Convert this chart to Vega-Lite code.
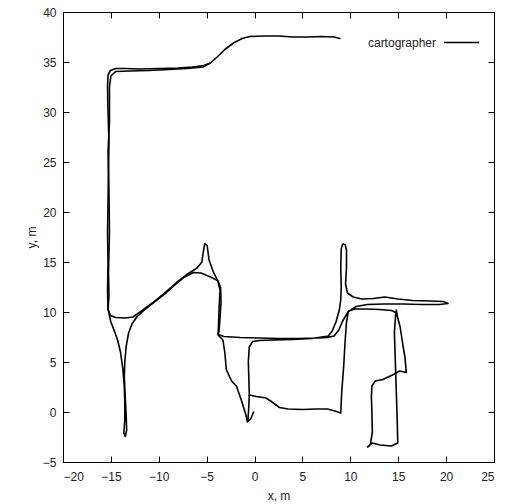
{
  "$schema": "https://vega.github.io/schema/vega-lite/v6.json",
  "width": 431,
  "height": 450,
  "autosize": {"type": "none"},
  "padding": {"left": 63, "top": 12, "right": 15, "bottom": 42},
  "background": "white",
  "config": {
    "view": {"stroke": "black", "strokeWidth": 1},
    "font": "Liberation Sans",
    "axis": {
      "grid": false, "domain": false, "ticks": true, "tickSize": -6, "tickColor": "black", "tickWidth": 1,
      "labelFont": "Liberation Sans", "labelFontSize": 12, "labelColor": "#222",
      "titleFont": "Liberation Sans", "titleFontSize": 12, "titleFontWeight": "normal", "titleColor": "#222"
    }
  },
  "datasets": {
    "traj": [
      {"seg":"A","x":8.9,"y":37.35},{"seg":"A","x":8.3,"y":37.5},{"seg":"A","x":7,"y":37.55},{"seg":"A","x":5.5,"y":37.5},{"seg":"A","x":4,"y":37.5},{"seg":"A","x":2.5,"y":37.6},{"seg":"A","x":1,"y":37.6},{"seg":"A","x":-0.5,"y":37.55},{"seg":"A","x":-1.3,"y":37.35},{"seg":"A","x":-2.2,"y":36.9},{"seg":"A","x":-3.1,"y":36.25},{"seg":"A","x":-3.9,"y":35.5},{"seg":"A","x":-4.6,"y":34.9},{"seg":"A","x":-5.3,"y":34.65},{"seg":"A","x":-6.5,"y":34.5},{"seg":"A","x":-8,"y":34.4},{"seg":"A","x":-10,"y":34.35},{"seg":"A","x":-12,"y":34.3},{"seg":"A","x":-13.5,"y":34.35},{"seg":"A","x":-14.5,"y":34.35},{"seg":"A","x":-15.05,"y":34.15},{"seg":"A","x":-15.3,"y":33.7},{"seg":"A","x":-15.35,"y":32.5},{"seg":"A","x":-15.3,"y":30},{"seg":"A","x":-15.2,"y":27},{"seg":"A","x":-15.25,"y":24},{"seg":"A","x":-15.3,"y":21},{"seg":"A","x":-15.35,"y":18},{"seg":"A","x":-15.3,"y":15},{"seg":"A","x":-15.35,"y":12},{"seg":"A","x":-15.3,"y":10.3},{"seg":"A","x":-15.05,"y":9.65},{"seg":"A","x":-14.5,"y":9.45},{"seg":"A","x":-13.5,"y":9.4},{"seg":"A","x":-12.7,"y":9.5},{"seg":"A","x":-11.8,"y":10.1},{"seg":"A","x":-10.6,"y":10.95},{"seg":"A","x":-9.4,"y":11.9},{"seg":"A","x":-8.2,"y":12.9},{"seg":"A","x":-7,"y":13.8},{"seg":"A","x":-6,"y":14.4},{"seg":"A","x":-5.5,"y":15},{"seg":"A","x":-5.35,"y":16},{"seg":"A","x":-5.2,"y":16.85},{"seg":"A","x":-4.95,"y":16.65},{"seg":"A","x":-4.75,"y":15.2},{"seg":"A","x":-4.3,"y":14},{"seg":"A","x":-3.85,"y":13.15},{"seg":"A","x":-3.6,"y":12.2},{"seg":"A","x":-3.7,"y":10.5},{"seg":"A","x":-3.75,"y":9},{"seg":"A","x":-3.8,"y":7.75},{"seg":"A","x":-3.2,"y":7.55},{"seg":"A","x":-1.5,"y":7.45},{"seg":"A","x":0.5,"y":7.4},{"seg":"A","x":2.5,"y":7.35},{"seg":"A","x":4.5,"y":7.35},{"seg":"A","x":6.5,"y":7.4},{"seg":"A","x":7.6,"y":7.45},{"seg":"A","x":8.3,"y":7.6},{"seg":"A","x":8.8,"y":8.2},{"seg":"A","x":9.2,"y":9.1},{"seg":"A","x":9.75,"y":10},{"seg":"A","x":10.6,"y":10.55},{"seg":"A","x":11.8,"y":10.75},{"seg":"A","x":13.5,"y":10.8},{"seg":"A","x":15.5,"y":10.8},{"seg":"A","x":17.5,"y":10.75},{"seg":"A","x":19.3,"y":10.75},{"seg":"A","x":20.2,"y":10.85},{"seg":"A","x":19.7,"y":11.05},{"seg":"A","x":18.3,"y":11.1},{"seg":"A","x":16.5,"y":11.15},{"seg":"A","x":15,"y":11.3},{"seg":"A","x":13.6,"y":11.5},{"seg":"A","x":12.4,"y":11.35},{"seg":"A","x":11.2,"y":11.3},{"seg":"A","x":10.3,"y":11.5},{"seg":"A","x":9.7,"y":11.9},{"seg":"A","x":9.5,"y":12.8},{"seg":"A","x":9.6,"y":14.5},{"seg":"A","x":9.6,"y":16.2},{"seg":"A","x":9.45,"y":16.75},{"seg":"A","x":9.2,"y":16.8},{"seg":"A","x":9.05,"y":16.3},{"seg":"A","x":9,"y":14.5},{"seg":"A","x":9.05,"y":12.5},{"seg":"A","x":9,"y":11.2},{"seg":"A","x":8.85,"y":10.2},{"seg":"A","x":8.5,"y":9},{"seg":"A","x":8.1,"y":8.1},{"seg":"A","x":7.7,"y":7.6},{"seg":"A","x":6,"y":7.35},{"seg":"A","x":4,"y":7.25},{"seg":"A","x":2,"y":7.2},{"seg":"A","x":0.5,"y":7.15},{"seg":"A","x":-0.2,"y":7.05},{"seg":"A","x":-0.55,"y":6.5},{"seg":"A","x":-0.65,"y":5},{"seg":"A","x":-0.6,"y":3.5},{"seg":"A","x":-0.55,"y":1.7},{"seg":"A","x":0.2,"y":1.55},{"seg":"A","x":1.2,"y":1.4},{"seg":"A","x":1.9,"y":0.95},{"seg":"A","x":2.6,"y":0.45},{"seg":"A","x":3.5,"y":0.3},{"seg":"A","x":5,"y":0.25},{"seg":"A","x":6.5,"y":0.3},{"seg":"A","x":7.6,"y":0.3},{"seg":"A","x":8.4,"y":0.1},{"seg":"A","x":9,"y":-0.1},{"seg":"A","x":9.1,"y":2},{"seg":"A","x":9.3,"y":4.5},{"seg":"A","x":9.45,"y":7},{"seg":"A","x":9.6,"y":9},{"seg":"A","x":9.8,"y":10.1},{"seg":"A","x":10.5,"y":10.3},{"seg":"A","x":11.7,"y":10.3},{"seg":"A","x":13,"y":10.25},{"seg":"A","x":14.3,"y":10.15},{"seg":"A","x":14.75,"y":9.95},{"seg":"A","x":14.6,"y":8},{"seg":"A","x":14.7,"y":5},{"seg":"A","x":14.8,"y":2},{"seg":"A","x":14.9,"y":-1},{"seg":"A","x":14.95,"y":-3.1},{"seg":"A","x":14.3,"y":-3.4},{"seg":"A","x":13.1,"y":-3.3},{"seg":"A","x":12.3,"y":-3.1},{"seg":"A","x":12,"y":-3.35},{"seg":"A","x":11.8,"y":-3.5},{"seg":"A","x":12.1,"y":-3.2},{"seg":"A","x":12.3,"y":-2},{"seg":"A","x":12.25,"y":0},{"seg":"A","x":12.2,"y":1.5},{"seg":"A","x":12.25,"y":2.6},{"seg":"A","x":12.6,"y":3.1},{"seg":"A","x":13.4,"y":3.25},{"seg":"A","x":14.5,"y":3.75},{"seg":"A","x":15.15,"y":4.1},{"seg":"A","x":15.85,"y":3.95},{"seg":"A","x":15.7,"y":5.5},{"seg":"A","x":15.5,"y":6.6},{"seg":"A","x":15.2,"y":8.5},{"seg":"A","x":14.9,"y":9.6},{"seg":"A","x":14.8,"y":10.2},
      {"seg":"B","x":-15.3,"y":10.3},{"seg":"B","x":-15,"y":9},{"seg":"B","x":-14.6,"y":8},{"seg":"B","x":-14.3,"y":7.2},{"seg":"B","x":-14,"y":6},{"seg":"B","x":-13.75,"y":4.3},{"seg":"B","x":-13.6,"y":2.5},{"seg":"B","x":-13.55,"y":0.9},{"seg":"B","x":-13.55,"y":-0.8},{"seg":"B","x":-13.65,"y":-2.1},{"seg":"B","x":-13.5,"y":-2.45},{"seg":"B","x":-13.35,"y":-1.8},{"seg":"B","x":-13.4,"y":-0.5},{"seg":"B","x":-13.5,"y":1.5},{"seg":"B","x":-13.6,"y":3.5},{"seg":"B","x":-13.55,"y":5},{"seg":"B","x":-13.4,"y":6.6},{"seg":"B","x":-13.15,"y":7.9},{"seg":"B","x":-12.8,"y":8.8},{"seg":"B","x":-12.3,"y":9.5},{"seg":"B","x":-11.4,"y":10.3},{"seg":"B","x":-10.2,"y":11.2},{"seg":"B","x":-9.2,"y":11.95},{"seg":"B","x":-8.2,"y":12.8},{"seg":"B","x":-7.3,"y":13.5},{"seg":"B","x":-6.4,"y":13.95},{"seg":"B","x":-5.6,"y":13.9},{"seg":"B","x":-4.6,"y":13.5},{"seg":"B","x":-3.85,"y":13.15},{"seg":"B","x":-3.55,"y":12.5},{"seg":"B","x":-3.5,"y":11},{"seg":"B","x":-3.6,"y":9.5},{"seg":"B","x":-3.7,"y":8.2},{"seg":"B","x":-3.8,"y":7.7},{"seg":"B","x":-3.3,"y":7.2},{"seg":"B","x":-3.1,"y":5.9},{"seg":"B","x":-2.95,"y":4.25},{"seg":"B","x":-2.4,"y":3.1},{"seg":"B","x":-1.9,"y":2.6},{"seg":"B","x":-1.4,"y":1.25},{"seg":"B","x":-0.9,"y":-0.3},{"seg":"B","x":-0.75,"y":-1},{"seg":"B","x":-0.4,"y":-0.7},{"seg":"B","x":-0.1,"y":0},
      {"seg":"C","x":-0.55,"y":1.7},{"seg":"C","x":-0.6,"y":0.5},{"seg":"C","x":-0.7,"y":-0.9},
      {"seg":"D","x":-4.6,"y":34.9},{"seg":"D","x":-5.4,"y":34.5},{"seg":"D","x":-7,"y":34.35},{"seg":"D","x":-9,"y":34.25},{"seg":"D","x":-11,"y":34.15},{"seg":"D","x":-13,"y":34.1},{"seg":"D","x":-14.5,"y":34.05},{"seg":"D","x":-15.0,"y":33.6},{"seg":"D","x":-15.15,"y":32.5},{"seg":"D","x":-15.15,"y":29},{"seg":"D","x":-15.3,"y":26},{"seg":"D","x":-15.2,"y":22},{"seg":"D","x":-15.15,"y":18},{"seg":"D","x":-15.25,"y":14},{"seg":"D","x":-15.2,"y":11.5},{"seg":"D","x":-15.3,"y":10.3}
    ]
  },
  "data": {"name": "traj"},
  "resolve": {"axis": {"x": "independent", "y": "independent"}},
  "layer": [
    {
      "mark": {"type": "line", "strokeWidth": 1.6, "strokeJoin": "round", "strokeCap": "round"},
      "encoding": {
        "x": {"field": "x", "type": "quantitative", "scale": {"domain": [-20, 25], "nice": false, "zero": false},
              "axis": {"orient": "bottom", "values": [-20,-15,-10,-5,0,5,10,15,20,25], "title": "x, m", "labelPadding": 15, "titlePadding": 8}},
        "y": {"field": "y", "type": "quantitative", "scale": {"domain": [-5, 40], "nice": false, "zero": false},
              "axis": {"orient": "left", "values": [-5,0,5,10,15,20,25,30,35,40], "title": "y, m", "labelPadding": 13, "titlePadding": 4}},
        "detail": {"field": "seg"},
        "order": {"value": null},
        "color": {"datum": "cartographer", "type": "nominal", "scale": {"range": ["black"]},
                  "legend": {"title": null, "orient": "top-right", "offset": 12, "padding": 0, "symbolType": "stroke", "symbolSize": 1225, "symbolStrokeWidth": 1.5, "labelAlign": "right", "labelOffset": -44, "labelFont": "Liberation Sans", "labelFontSize": 12, "labelColor": "#222"}}
      }
    },
    {
      "mark": {"type": "line", "opacity": 0},
      "encoding": {
        "x": {"field": "x", "type": "quantitative", "axis": {"orient": "top", "values": [-20,-15,-10,-5,0,5,10,15,20,25], "labels": false, "title": null}},
        "y": {"field": "y", "type": "quantitative", "axis": {"orient": "right", "values": [-5,0,5,10,15,20,25,30,35,40], "labels": false, "title": null}},
        "detail": {"field": "seg"},
        "order": {"value": null}
      }
    }
  ]
}
